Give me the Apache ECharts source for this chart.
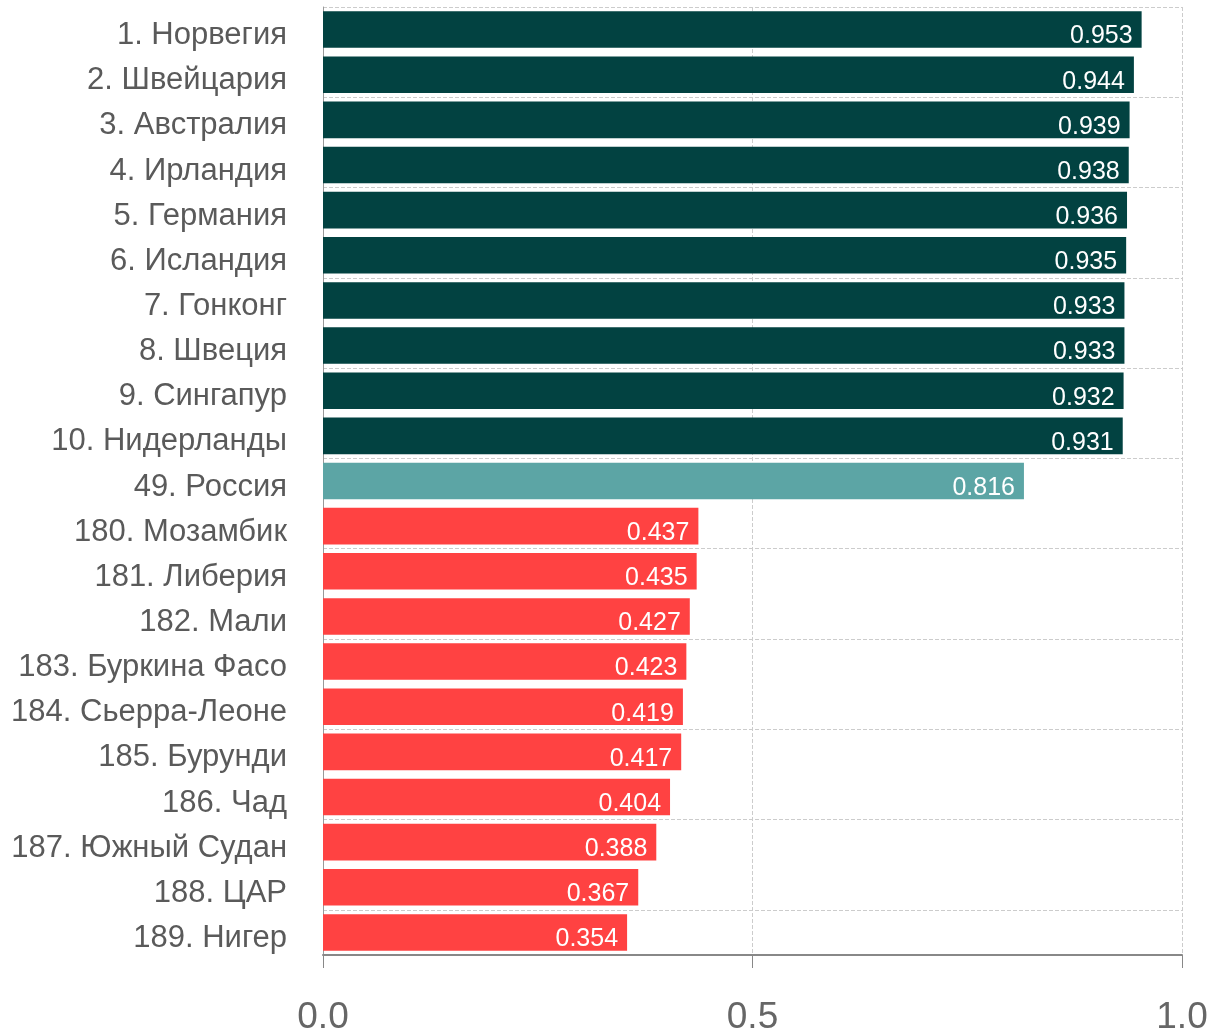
<!DOCTYPE html>
<html><head><meta charset="utf-8">
<script src="https://cdn.jsdelivr.net/npm/echarts@6/dist/echarts.min.js"></script>
<style>html,body{margin:0;padding:0;background:#fff}#c{width:1217px;height:1032px}</style>
</head><body><div id="c"></div>
<script>
const categories = ["1. Норвегия","2. Швейцария","3. Австралия","4. Ирландия","5. Германия","6. Исландия","7. Гонконг","8. Швеция","9. Сингапур","10. Нидерланды","49. Россия","180. Мозамбик","181. Либерия","182. Мали","183. Буркина Фасо","184. Сьерра-Леоне","185. Бурунди","186. Чад","187. Южный Судан","188. ЦАР","189. Нигер"];
const values = [0.953,0.944,0.939,0.938,0.936,0.935,0.933,0.933,0.932,0.931,0.816,0.437,0.435,0.427,0.423,0.419,0.417,0.404,0.388,0.367,0.354];
const groups = ["top","top","top","top","top","top","top","top","top","top","russia","bottom","bottom","bottom","bottom","bottom","bottom","bottom","bottom","bottom","bottom"];
const xTicks = [0, 0.5, 1.0];
const groupColors = {top:"#024241", russia:"#5ca5a5", bottom:"#ff4242"};
const FONT = "'Liberation Sans', Arial, sans-serif";

const chart = echarts.init(document.getElementById('c'));
chart.setOption({
  animation:false,
  grid:{left:323,right:35,top:7,bottom:77,containLabel:false,outerBoundsMode:'none'},
  xAxis:{type:'value',min:0,max:1,interval:0.5,
    axisLine:{show:true,lineStyle:{color:'#888',width:2}},
    axisTick:{show:true,length:13,lineStyle:{color:'#888',width:1}},
    axisLabel:{margin:44,fontSize:37,color:'#666',fontFamily:FONT,
      formatter:v=>v.toFixed(1)},
    splitLine:{show:true,lineStyle:{color:'#ccc',type:'dashed',width:1}}
  },
  yAxis:{type:'category',data:categories,inverse:true,
    axisLine:{show:true,lineStyle:{color:'#999',width:1}},axisTick:{show:false},
    axisLabel:{margin:36,color:'#555',fontFamily:FONT,
      formatter:v=>'{a|'+v+'}',
      rich:{a:{fontSize:31,color:'#5a5a5a',fontFamily:FONT,padding:[12,0,0,0]}}},
    splitLine:{show:true,interval:1,lineStyle:{color:'#ccc',type:'dashed',width:1}}
  },
  series:[{type:'bar',barCategoryGap:'19%',
    data:values.map((v,i)=>({value:v,itemStyle:{color:groupColors[groups[i]]}})),
    label:{show:true,position:'insideRight',distance:9,offset:[0,7],color:'#fff',fontSize:25,
      fontFamily:FONT,formatter:p=>p.value.toFixed(3)}
  }]
});
</script></body></html>
